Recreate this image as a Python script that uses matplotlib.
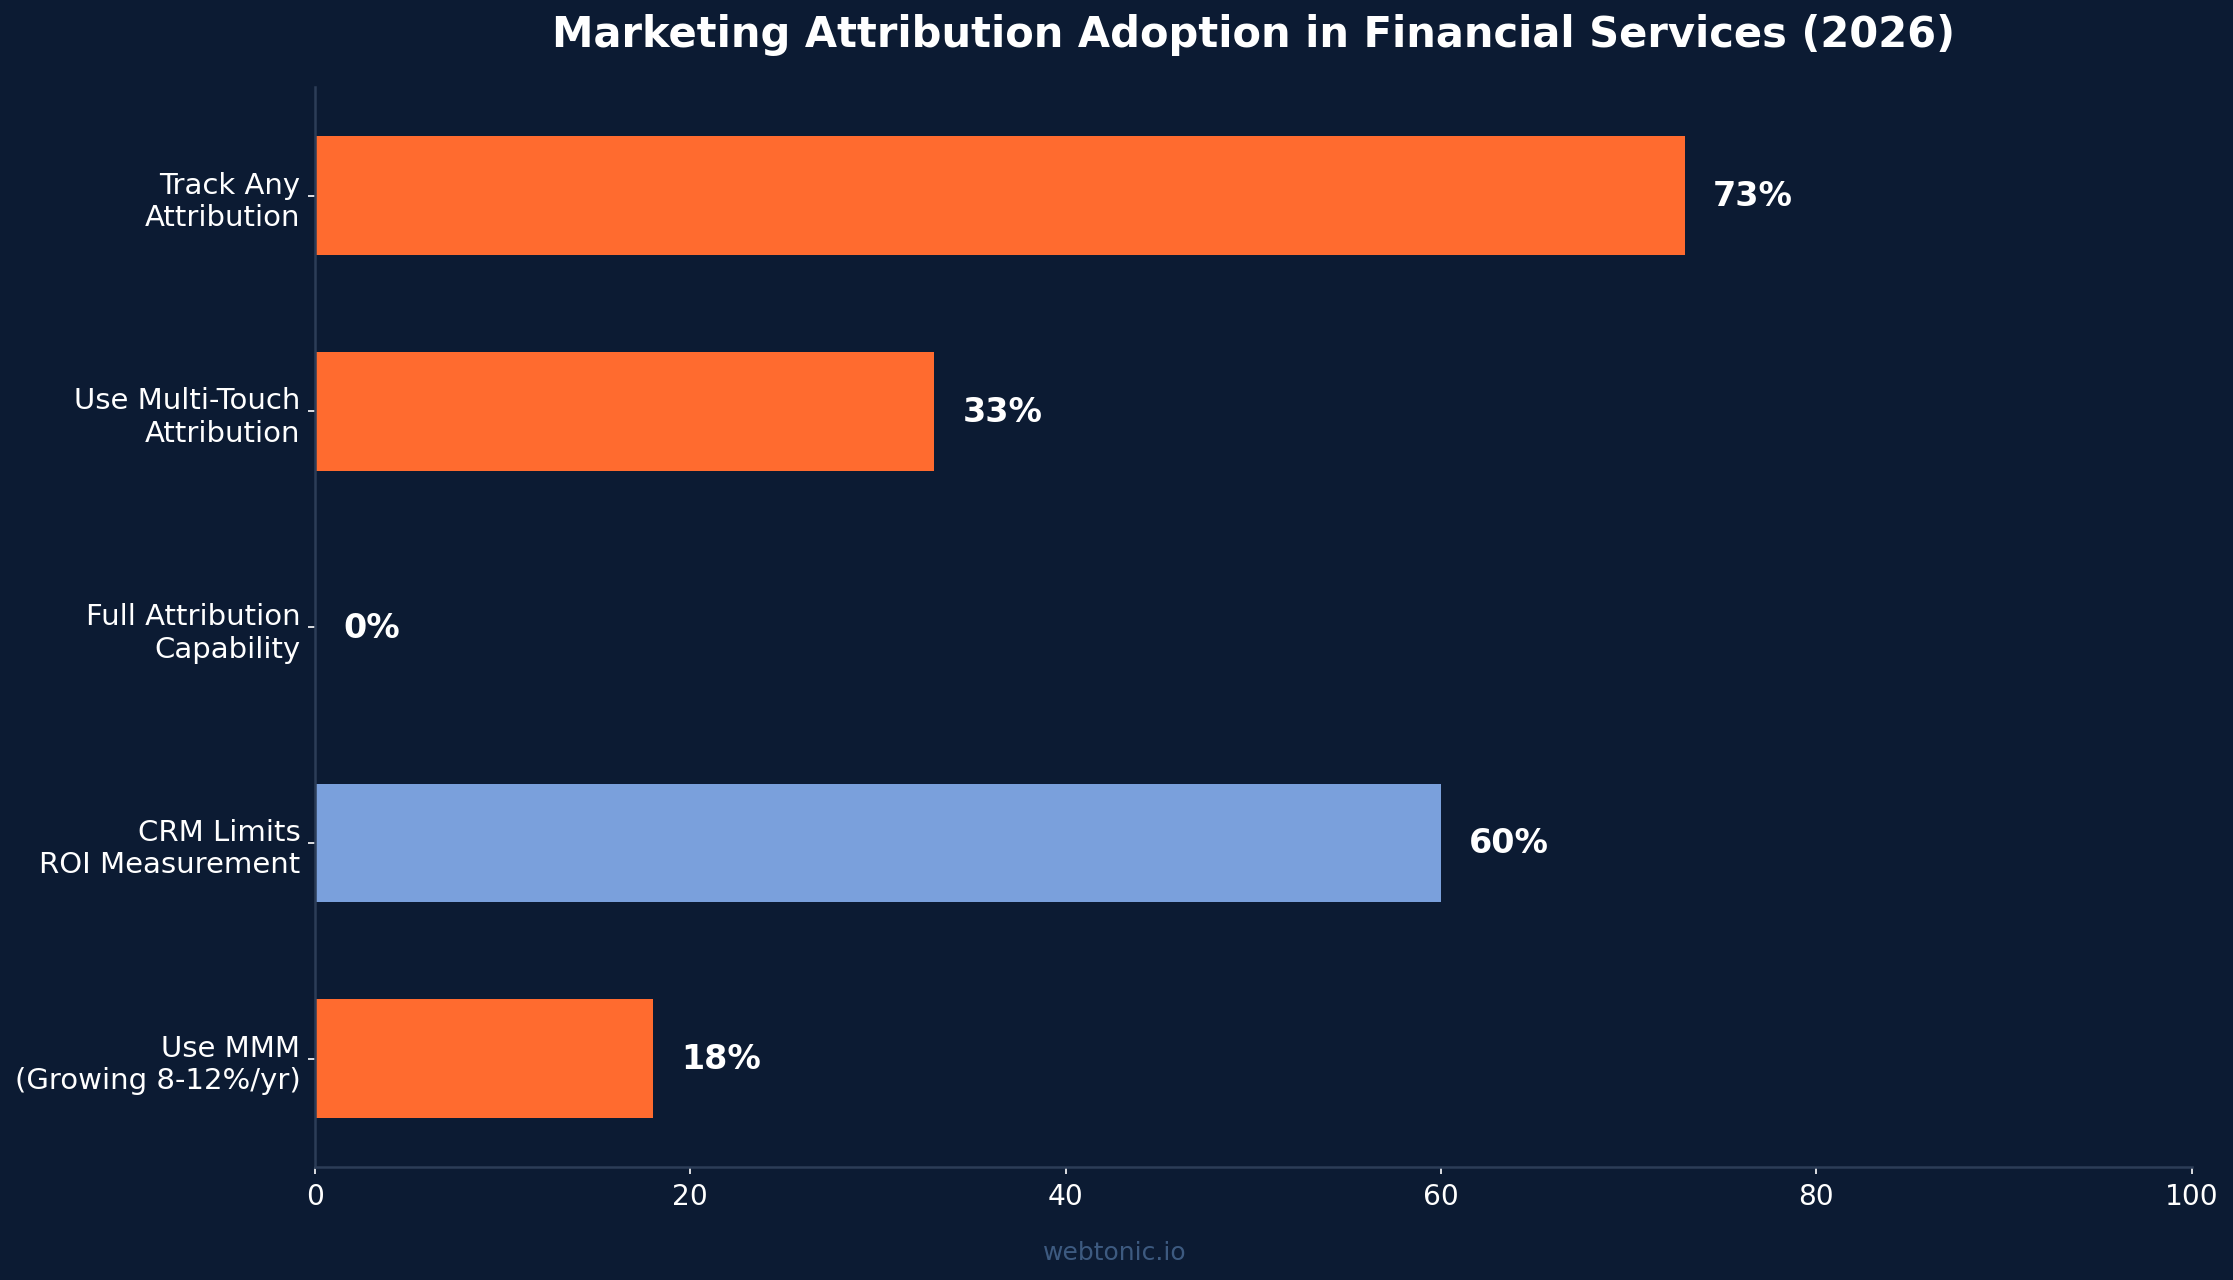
import matplotlib
matplotlib.use('Agg')
import matplotlib.pyplot as plt

# data
categories = ['Track Any\nAttribution', 'Use Multi-Touch\nAttribution',
              'Full Attribution\nCapability', 'CRM Limits\nROI Measurement',
              'Use MMM\n(Growing 8-12%/yr)']
values = [73, 33, 0, 60, 18]
bar_colors = ['#FF6B2F', '#FF6B2F', '#FF6B2F', '#7AA0DC', '#FF6B2F']
x_ticks = [0, 20, 40, 60, 80, 100]

BG = '#0C1B33'
SPINE = '#2C3D57'

fig = plt.figure(figsize=(2233 / 150, 1281 / 150), dpi=150, facecolor=BG)
ax = fig.add_axes([0.141, 0.0882, 0.8405, 0.8428])
ax.set_facecolor(BG)

ypos = list(range(len(categories)))
ax.barh(ypos, values, height=0.55, color=bar_colors)
ax.invert_yaxis()
ax.set_yticks(ypos)
ax.set_yticklabels(categories, fontsize=14, color='white')

ax.set_xlim(0, 100)
ax.set_xticks(x_ticks)
ax.tick_params(axis='x', colors='white', labelsize=13.5)
ax.tick_params(axis='y', colors='white')

# value labels
for y, v in zip(ypos, values):
    ax.text(v + 1.5, y, f'{v}%', va='center', ha='left', fontsize=16,
            fontweight='bold', color='white')

for s in ['top', 'right']:
    ax.spines[s].set_visible(False)
for s in ['left', 'bottom']:
    ax.spines[s].set_color(SPINE)
    ax.spines[s].set_linewidth(1.2)

ax.set_title('Marketing Attribution Adoption in Financial Services (2026)',
             fontsize=20, fontweight='bold', color='white', pad=20)

fig.text(0.4994, 0.022, 'webtonic.io', ha='center', va='center',
         fontsize=12, color='#3D5A80')

fig.savefig('out.png', dpi=150, facecolor=BG)
